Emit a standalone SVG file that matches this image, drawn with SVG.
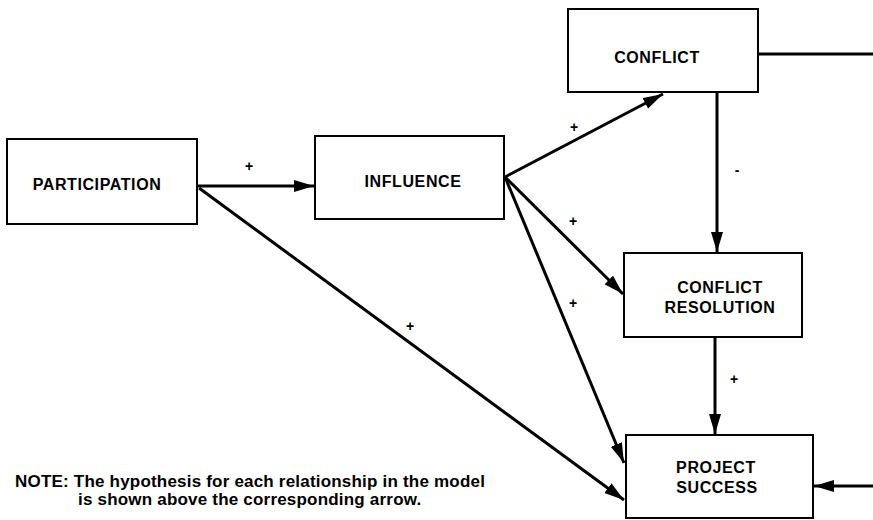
<svg xmlns="http://www.w3.org/2000/svg" width="873" height="520" viewBox="0 0 873 520">
<style>
.box{fill:#fff;stroke:#000;stroke-width:2}
.lbl{font-family:"Liberation Sans",Arial,sans-serif;font-weight:bold;font-size:16px;letter-spacing:0.6px;text-anchor:middle;fill:#000}
.sign{font-family:"Liberation Sans",Arial,sans-serif;font-weight:bold;font-size:14px;text-anchor:middle;fill:#000}
.note{font-family:"Liberation Sans",Arial,sans-serif;font-weight:bold;font-size:17px;letter-spacing:0.2px;fill:#000}
.ln{fill:none;stroke:#000;stroke-width:3}
</style>
<defs>
<marker id="ah" markerUnits="userSpaceOnUse" markerWidth="22" markerHeight="14" refX="20" refY="6" orient="auto">
<path d="M0,0 L20,6 L0,12 Z" fill="#000"/>
</marker>
</defs>
<g id="connectors">
<line class="ln" x1="197" y1="186" x2="314" y2="186" marker-end="url(#ah)"/>
<line class="ln" x1="199" y1="188" x2="624" y2="500" marker-end="url(#ah)"/>
<line class="ln" x1="505" y1="177" x2="663" y2="94" marker-end="url(#ah)"/>
<line class="ln" x1="505" y1="177" x2="623" y2="294" marker-end="url(#ah)"/>
<line class="ln" x1="505" y1="177" x2="624" y2="463" marker-end="url(#ah)"/>
<line class="ln" x1="717" y1="92" x2="717" y2="252" marker-end="url(#ah)"/>
<line class="ln" x1="715" y1="337" x2="715" y2="434" marker-end="url(#ah)"/>
<line class="ln" x1="758" y1="54" x2="873" y2="54" stroke-width="2"/>
<line class="ln" x1="873" y1="486" x2="814" y2="486" marker-end="url(#ah)"/>
<text class="sign" x="249" y="171">+</text>
<text class="sign" x="574" y="132">+</text>
<text class="sign" x="737" y="175">-</text>
<text class="sign" x="573" y="226">+</text>
<text class="sign" x="573" y="308">+</text>
<text class="sign" x="410" y="331">+</text>
<text class="sign" x="734" y="384">+</text>
</g>
<g id="participation">
<rect class="box" x="7" y="139" width="190" height="85"/>
<text class="lbl" x="97" y="190">PARTICIPATION</text>
</g>
<g id="influence">
<rect class="box" x="315" y="136" width="189" height="83"/>
<text class="lbl" x="413" y="187">INFLUENCE</text>
</g>
<g id="conflict">
<rect class="box" x="568" y="9" width="190" height="83"/>
<text class="lbl" x="657" y="63">CONFLICT</text>
</g>
<g id="conflict-resolution">
<rect class="box" x="624" y="253" width="178" height="84"/>
<text class="lbl" x="720" y="293">CONFLICT</text>
<text class="lbl" x="720" y="313">RESOLUTION</text>
</g>
<g id="project-success">
<rect class="box" x="626" y="435" width="187" height="83"/>
<text class="lbl" x="716" y="473">PROJECT</text>
<text class="lbl" x="717" y="493">SUCCESS</text>
</g>
<g id="note">
<text class="note" x="15" y="487">NOTE: The hypothesis for each relationship in the model</text>
<text class="note" x="78" y="505">is shown above the corresponding arrow.</text>
</g>
</svg>
